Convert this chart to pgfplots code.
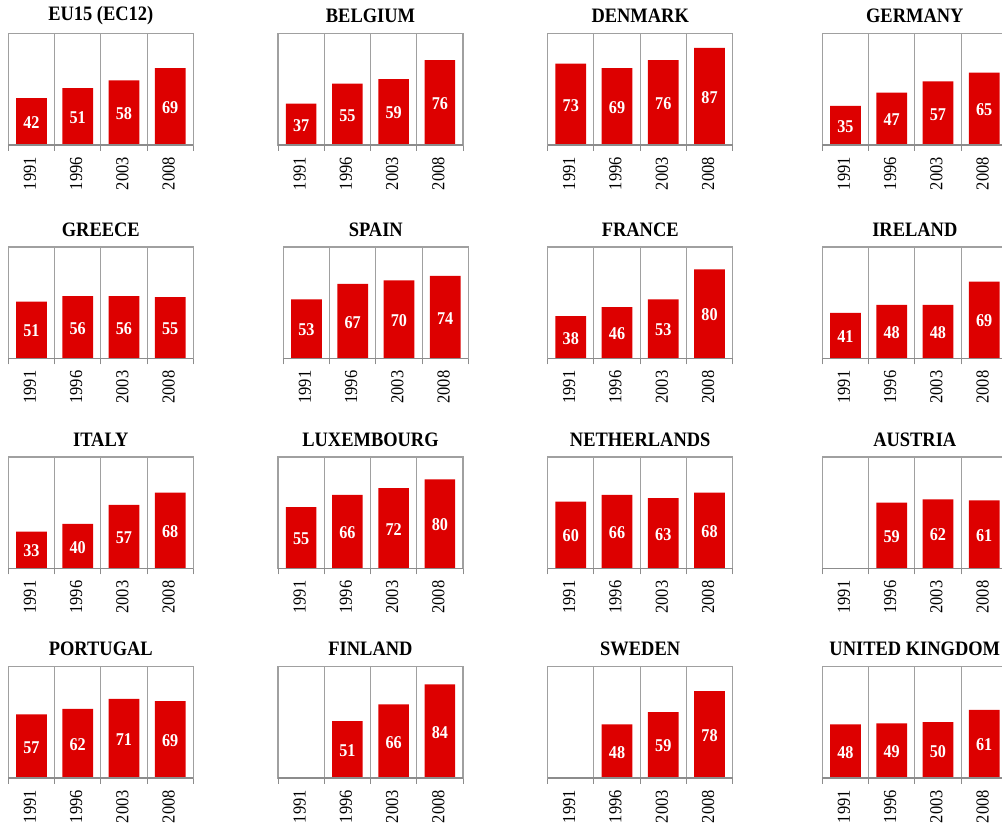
\documentclass[border=0pt]{standalone}
\usepackage{fontspec}
\setmainfont[FakeStretch=0.9]{Liberation Serif}
\usepackage{pgfplots}
\pgfplotsset{compat=1.18}
\definecolor{barred}{HTML}{DD0000}
\definecolor{framegray}{HTML}{A0A0A0}
\definecolor{axisgray}{HTML}{8C8C8C}

\pgfplotsset{panel/.style={
    scale only axis, width=185pt, height=111.5pt, anchor=south west,
    xmin=0.5, xmax=4.5, ymin=0, ymax=100,
    ybar, bar width=30.7pt, clip=false,
    xtick={1,2,3,4}, xticklabels={1991,1996,2003,2008},
    major tick length=0pt,
    minor xtick={0.5,1.5,2.5,3.5,4.5},
    minor tick length=6pt,
    tick align=outside, xtick pos=bottom,
    minor x tick style={axisgray, line width=1pt},
    xminorgrids=true,
    minor grid style={framegray, line width=1pt},
    ytick=\empty,
    axis line style={framegray, line width=1.3pt},
    xticklabel style={rotate=90, anchor=east, inner sep=0pt, text depth=0.33em,
        font=\fontsize{18.3}{18.3}\selectfont},
    xticklabel shift=12pt,
    /pgf/number format/assume math mode=true,
    title style={at={(0.5,1)}, anchor=center, yshift=11.5pt,
        font=\bfseries\fontsize{20.5}{20.5}\selectfont},
    visualization depends on={rawy \as \rawy},
    nodes near coords={\pgfmathprintnumber[assume math mode=true]{\pgfplotspointmeta}},
    every node near coord/.append style={anchor=center, text=white,
        font=\bfseries\fontsize{18}{18}\selectfont, yshift=-0.5*\rawy*1.115pt-1pt},
}}

% one small chart: left, bottom (pt), title, bars
\newcommand\panel[4]{%
\begin{axis}[panel, at={(#1pt,#2pt)}, title={#3}]
\addplot[fill=barred, draw=none] coordinates {#4};
\draw[axisgray, line width=1.8pt] (rel axis cs:0,0) -- (rel axis cs:1,0);
\end{axis}}

\begin{document}
\begin{tikzpicture}
\useasboundingbox (0pt,0pt) rectangle (1002pt,829pt);
% row 1
\panel{8.3}{684}{EU15 (EC12)}{(1,42) (2,51) (3,58) (4,69)}
\panel{278}{684}{BELGIUM}{(1,37) (2,55) (3,59) (4,76)}
\panel{547.7}{684}{DENMARK}{(1,73) (2,69) (3,76) (4,87)}
\panel{822.3}{684}{GERMANY}{(1,35) (2,47) (3,57) (4,65)}
% row 2
\panel{8.3}{470.5}{GREECE}{(1,51) (2,56) (3,56) (4,55)}
\panel{283.3}{470.5}{SPAIN}{(1,53) (2,67) (3,70) (4,74)}
\panel{547.7}{470.5}{FRANCE}{(1,38) (2,46) (3,53) (4,80)}
\panel{822.3}{470.5}{IRELAND}{(1,41) (2,48) (3,48) (4,69)}
% row 3
\panel{8.3}{260.5}{ITALY}{(1,33) (2,40) (3,57) (4,68)}
\panel{278}{260.5}{LUXEMBOURG}{(1,55) (2,66) (3,72) (4,80)}
\panel{547.7}{260.5}{NETHERLANDS}{(1,60) (2,66) (3,63) (4,68)}
\panel{822.3}{260.5}{AUSTRIA}{(2,59) (3,62) (4,61)}
% row 4
\panel{8.3}{51}{PORTUGAL}{(1,57) (2,62) (3,71) (4,69)}
\panel{278}{51}{FINLAND}{(2,51) (3,66) (4,84)}
\panel{547.7}{51}{SWEDEN}{(2,48) (3,59) (4,78)}
\panel{822.3}{51}{UNITED KINGDOM}{(1,48) (2,49) (3,50) (4,61)}
\end{tikzpicture}
\end{document}
